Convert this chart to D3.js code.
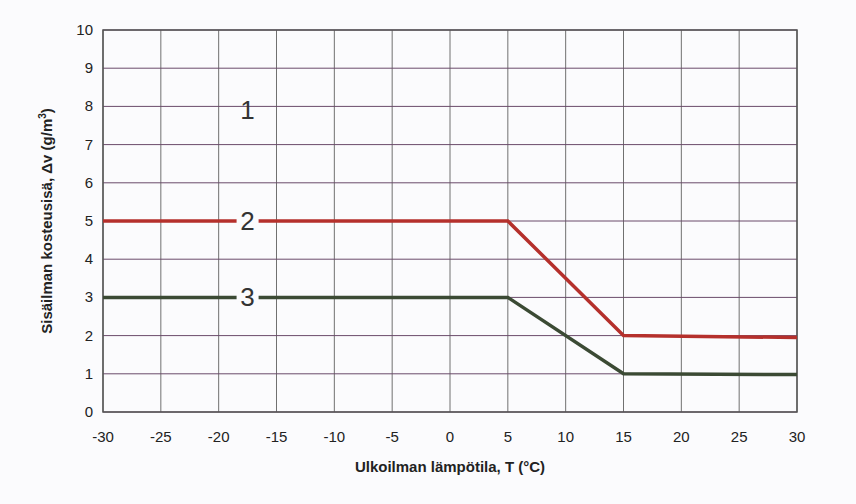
<!DOCTYPE html>
<html><head><meta charset="utf-8">
<script src="https://cdn.jsdelivr.net/npm/d3@7"></script>
<style>body{margin:0;background:#fbfbfd;}svg{display:block;font-family:"Liberation Sans",Arial,sans-serif;}</style>
</head><body><svg id="c" width="856" height="504"></svg>
<script>
const xTicks = [-30,-25,-20,-15,-10,-5,0,5,10,15,20,25,30];
const yTicks = [0,1,2,3,4,5,6,7,8,9,10];
const curve2X = [-30,5,15,30];
const curve2Y = [5,5,2,1.95];
const curve3X = [-30,5,15,30];
const curve3Y = [3,3,1,0.98];
const labelNames = ["1","2","3"];
const labelX = [-17.5,-17.5,-17.5];
const labelY = [7.9,5,3];

const svg = d3.select("#c");
const x = d3.scaleLinear().domain([-30,30]).range([103,797]);
const y = d3.scaleLinear().domain([0,10]).range([412,30]);

const g = svg.append("g");
g.selectAll(".vg").data(xTicks).join("line")
 .attr("x1",d=>x(d)).attr("x2",d=>x(d)).attr("y1",y(0)).attr("y2",y(10))
 .attr("stroke","#707070").attr("stroke-width",1);
g.selectAll(".hg").data(yTicks).join("line")
 .attr("x1",x(-30)).attr("x2",x(30)).attr("y1",d=>y(d)).attr("y2",d=>y(d))
 .attr("stroke","#6a4a6a").attr("stroke-width",1);
g.append("rect").attr("x",x(-30)).attr("y",y(10)).attr("width",x(30)-x(-30)).attr("height",y(0)-y(10))
 .attr("fill","none").attr("stroke","#555").attr("stroke-width",1.5);

const line = d3.line().x(d=>x(d[0])).y(d=>y(d[1]));
g.append("path").datum(curve2X.map((v,i)=>[v,curve2Y[i]])).attr("d",line)
 .attr("fill","none").attr("stroke","#b5302c").attr("stroke-width",3.5);
g.append("path").datum(curve3X.map((v,i)=>[v,curve3Y[i]])).attr("d",line)
 .attr("fill","none").attr("stroke","#3b4a34").attr("stroke-width",3.5);

labelNames.forEach((t,i)=>{
  if(i>0) g.append("rect").attr("x",x(labelX[i])-11).attr("y",y(labelY[i])-4).attr("width",22).attr("height",8).attr("fill","#fbfbfd");
  g.append("text").attr("x",x(labelX[i])).attr("y",y(labelY[i])+9).attr("text-anchor","middle")
   .attr("font-size",26).attr("fill","#333").text(t);
});

svg.selectAll(".xt").data(xTicks).join("text").attr("x",d=>x(d)).attr("y",y(0)+30)
 .attr("text-anchor","middle").attr("font-size",15).attr("fill","#222").text(d=>d);
svg.selectAll(".yt").data(yTicks).join("text").attr("x",x(-30)-10).attr("y",d=>y(d)+5)
 .attr("text-anchor","end").attr("font-size",15).attr("fill","#222").text(d=>d);

svg.append("text").attr("x",(x(-30)+x(30))/2).attr("y",472).attr("text-anchor","middle")
 .attr("font-size",15).attr("font-weight","bold").attr("fill","#222").text("Ulkoilman lämpötila, T (°C)");
const yl = svg.append("text").attr("transform",`translate(52,${(y(0)+y(10))/2}) rotate(-90)`)
 .attr("text-anchor","middle").attr("font-size",15).attr("font-weight","bold").attr("fill","#222");
yl.append("tspan").text("Sisäilman kosteusisä, Δv (g/m");
yl.append("tspan").attr("dy",-6).attr("font-size",10).text("3");
yl.append("tspan").attr("dy",6).text(")");
</script></body></html>
